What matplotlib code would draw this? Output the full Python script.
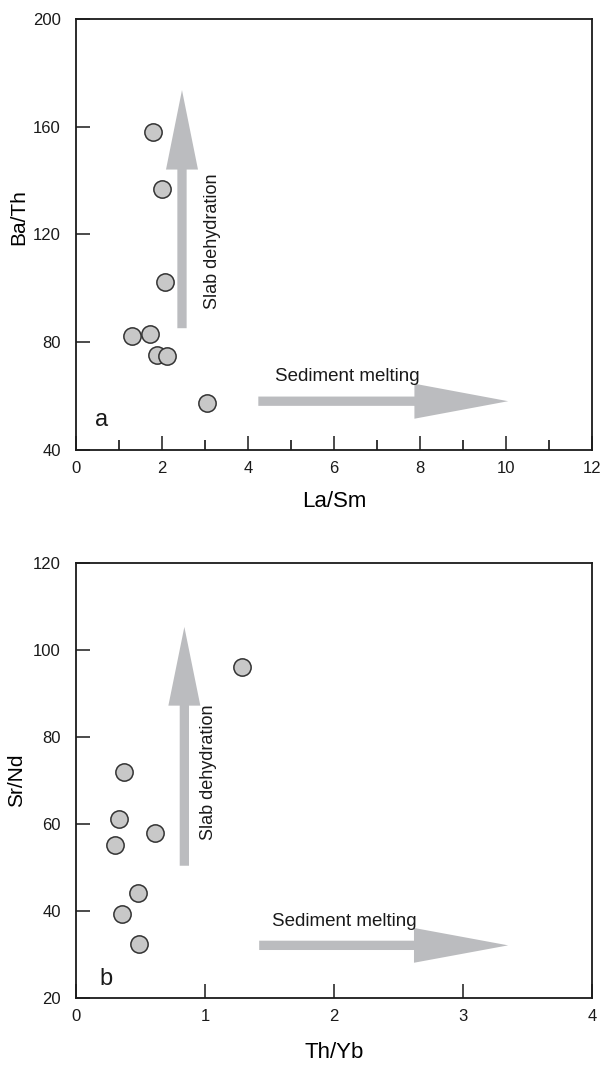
import matplotlib
matplotlib.use("Agg")
import matplotlib.pyplot as plt
from matplotlib.ticker import MultipleLocator

plt.rcParams['font.family'] = ['Liberation Sans', 'DejaVu Sans']

# (a) Ba/Th against La/Sm
la_sm = [1.80, 2.00, 2.07, 1.31, 1.72, 1.88, 2.12, 3.05]
ba_th = [158.1, 137.0, 102.2, 82.4, 83.0, 75.3, 74.8, 57.6]

# (b) Sr/Nd against Th/Yb
th_yb = [1.29, 0.37, 0.33, 0.30, 0.61, 0.48, 0.36, 0.49]
sr_nd = [96.0, 71.9, 61.2, 55.2, 58.0, 44.1, 39.4, 32.3]

POINT_FILL = '#c8c8c8'
POINT_EDGE = '#333333'
ARROW_GREY = '#bbbcbf'
INK = '#1a1a1a'


def style_axes(ax, xlim, ylim, xstep, ystep, xminor=None):
    ax.set_xlim(*xlim)
    ax.set_ylim(*ylim)
    ax.xaxis.set_major_locator(MultipleLocator(xstep))
    ax.yaxis.set_major_locator(MultipleLocator(ystep))
    if xminor:
        ax.xaxis.set_minor_locator(MultipleLocator(xminor))
    for side in ax.spines.values():
        side.set_linewidth(1.3)
        side.set_color(INK)
    ax.tick_params(which='major', direction='in', length=10, width=1.1,
                   labelsize=12, colors=INK)
    ax.tick_params(which='minor', direction='in', length=7, width=1.1)
    ax.tick_params(axis='x', pad=8)
    ax.tick_params(axis='y', pad=11)


def draw_points(ax, x, y):
    ax.scatter(x, y, s=155, facecolor=POINT_FILL, edgecolor=POINT_EDGE,
               linewidths=1.1, zorder=5)


fig = plt.figure(figsize=(6.07, 10.66), dpi=100)

# ---- panel a ----
ax1 = fig.add_axes([0.1252, 0.5779, 0.8501, 0.4043])
style_axes(ax1, (0, 12), (40, 200), 2, 40, xminor=1)
draw_points(ax1, la_sm, ba_th)

ax1.arrow(2.465, 85.2, 0, 88.4, width=0.216, head_width=0.744,
          head_length=29.5, length_includes_head=True,
          fc=ARROW_GREY, ec='none', zorder=3)
ax1.arrow(4.24, 58.1, 5.81, 0, width=3.45, head_width=13.0,
          head_length=2.18, length_includes_head=True,
          fc=ARROW_GREY, ec='none', zorder=3)
ax1.text(3.18, 117.6, 'Slab dehydration', rotation=90, ha='center',
         va='center', fontsize=13, color=INK)
ax1.text(4.63, 65.7, 'Sediment melting', ha='left', va='baseline',
         fontsize=13.5, color=INK)
ax1.text(0.60, 48.9, 'a', ha='center', va='baseline', fontsize=17,
         color=INK)

ax1.set_xlabel('La/Sm', fontsize=16, va='center')
ax1.set_ylabel('Ba/Th', fontsize=15, va='center')
ax1.xaxis.set_label_coords(0.5, -0.12)
ax1.yaxis.set_label_coords(-0.111, 0.54)

# ---- panel b ----
ax2 = fig.add_axes([0.1252, 0.0638, 0.8501, 0.4081])
style_axes(ax2, (0, 4), (20, 120), 1, 20)
draw_points(ax2, th_yb, sr_nd)

ax2.arrow(0.84, 50.4, 0, 54.9, width=0.072, head_width=0.248,
          head_length=18.1, length_includes_head=True,
          fc=ARROW_GREY, ec='none', zorder=3)
ax2.arrow(1.42, 32.1, 1.93, 0, width=2.14, head_width=8.0,
          head_length=0.73, length_includes_head=True,
          fc=ARROW_GREY, ec='none', zorder=3)
ax2.text(1.03, 71.9, 'Slab dehydration', rotation=90, ha='center',
         va='center', fontsize=13, color=INK)
ax2.text(1.52, 36.5, 'Sediment melting', ha='left', va='baseline',
         fontsize=13.5, color=INK)
ax2.text(0.235, 23.1, 'b', ha='center', va='baseline', fontsize=17,
         color=INK)

ax2.set_xlabel('Th/Yb', fontsize=16, va='center')
ax2.set_ylabel('Sr/Nd', fontsize=15, va='center')
ax2.xaxis.set_label_coords(0.5, -0.126)
ax2.yaxis.set_label_coords(-0.115, 0.5)

fig.savefig('out.png', dpi=100)
